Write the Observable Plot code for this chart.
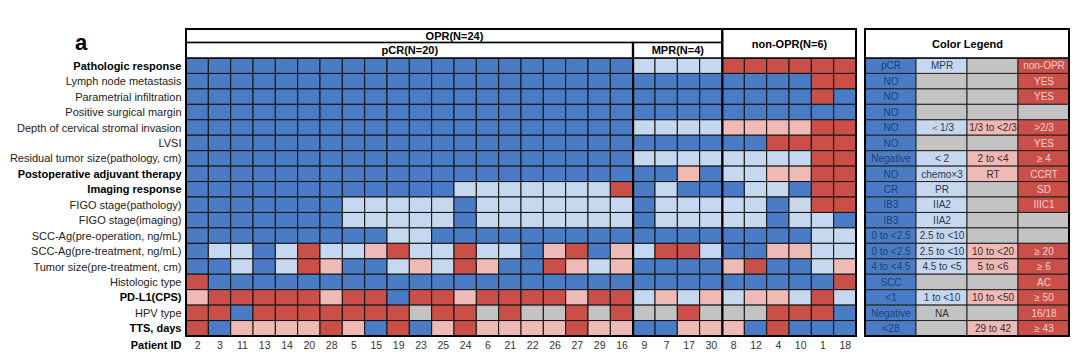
<!DOCTYPE html>
<html><head><meta charset="utf-8">
<script src="https://cdn.jsdelivr.net/npm/d3@7"></script>
<script src="https://cdn.jsdelivr.net/npm/@observablehq/plot@0.6"></script>
<style>
html,body{margin:0;padding:0;background:#fff;}
#wrap{position:relative;width:1080px;height:357px;overflow:hidden;font-family:"Liberation Sans",Arial,sans-serif;}
#wrap svg{position:absolute;left:0;top:0;}
#panel{position:absolute;left:75px;top:30px;font-size:22px;font-weight:bold;color:#000;}
</style></head><body><div id="wrap"><div id="panel">a</div></div>
<script>
// ---------- data ----------
const patients = [2,3,11,13,14,20,28,5,15,19,23,25,24,6,21,22,26,27,29,16,9,7,17,30,8,12,4,10,1,18];
const groupNames = ["pCR(N=20)","MPR(N=4)","non-OPR(N=6)"];
const groupSizes = [20,4,6];
const superName = "OPR(N=24)";
const rowLabels = [
  "Pathologic response","Lymph node metastasis","Parametrial infiltration","Positive surgical margin",
  "Depth of cervical stromal invasion","LVSI","Residual tumor size(pathology, cm)","Postoperative adjuvant therapy",
  "Imaging response","FIGO stage(pathology)","FIGO stage(imaging)","SCC-Ag(pre-operation, ng/mL)",
  "SCC-Ag(pre-treatment, ng/mL)","Tumor size(pre-treatment, cm)","Histologic type","PD-L1(CPS)","HPV type","TTS, days"
];
const boldRows = ["Pathologic response","Postoperative adjuvant therapy","Imaging response","PD-L1(CPS)","TTS, days"];
// B = dark blue, L = light blue, P = pink, R = red, G = grey
const cellCodes = [
  "BBBBBBBBBBBBBBBBBBBB"+"LLLL"+"RRRRRR",
  "BBBBBBBBBBBBBBBBBBBB"+"BBBB"+"BBBBRR",
  "BBBBBBBBBBBBBBBBBBBB"+"BBBB"+"BBBBRB",
  "BBBBBBBBBBBBBBBBBBBB"+"BBBB"+"BBBBBB",
  "BBBBBBBBBBBBBBBBBBBB"+"LLLL"+"PPPPRR",
  "BBBBBBBBBBBBBBBBBBBB"+"BBBB"+"BBRRRR",
  "BBBBBBBBBBBBBBBBBBBB"+"LLLL"+"LLLLRR",
  "BBBBBBBBBBBBBBBBBBBB"+"BBPB"+"LLPPRR",
  "BBBBBBBBBBBBLLLLLLLR"+"BLBB"+"BLLBRR",
  "BBBBBBBLLLLLBLLLLLLL"+"BLLL"+"LLBLRR",
  "BBBBBBBLLLLLBLLLLLLL"+"BLLL"+"LLBLLB",
  "BBBBBBBBBLLBBBBBBBBB"+"BBBB"+"BBBBLL",
  "BLLBLRLLPRLLRLLBPRBP"+"LRRL"+"BBPPLL",
  "BBLBLRPBBLPLRPBBRPLP"+"BBBB"+"PRBBLP",
  "RBBBBBBBBBBBBBBBBBBB"+"BBBB"+"BBBBBR",
  "PRRRRRPRRBRRPRRRRPRR"+"LPLP"+"LPPLRL",
  "RRBRRRRRRRGRRGRGGRGR"+"GGRG"+"GGRRRB",
  "RBPPPPRPBRBPRPPPPRPP"+"BBPP"+"PBRBBB"
];
const legendTitle = "Color Legend";
const legendTexts = [
  ["pCR","MPR","","non-OPR"],
  ["NO","","","YES"],
  ["NO","","","YES"],
  ["NO","","",""],
  ["NO","\uFF1C1/3","1/3 to <2/3",">2/3"],
  ["NO","","","YES"],
  ["Negative","< 2","2 to <4","\u2265 4"],
  ["NO","chemo\u00D73","RT","CCRT"],
  ["CR","PR","","SD"],
  ["IB3","IIA2","","IIIC1"],
  ["IB3","IIA2","",""],
  ["0 to <2.5","2.5 to <10","",""],
  ["0 to <2.5","2.5 to <10","10 to <20","\u2265 20"],
  ["4 to <4.5","4.5 to <5","5 to <6","\u2265 6"],
  ["SCC","","","AC"],
  ["<1","1 to <10","10 to <50","\u2265 50"],
  ["Negative","NA","","16/18"],
  ["<28","","29 to 42","\u2265 43"]
];
const legendCodes = ["BLGR","BGGR","BGGR","BGGG","BLPR","BGGR","BLPR","BLPR","BLGR","BLGR","BLGG","BLGG","BLPR","BLPR","BGGR","BLPR","BGGR","BGPR"];

// ---------- styles ----------
const fillOf = {B:"#4a7cc5", L:"#c6d8ef", P:"#efbab6", R:"#c94f48", G:"#c3c3c3"};
const textOf = {B:"#1d3f78", L:"#2b3650", P:"#3a2a2a", R:"#f7d0cc", G:"#333333"};
const FONT = '"Liberation Sans", Arial, sans-serif';

// ---------- derived tables ----------
const cells = [];
cellCodes.forEach((s, r) => { for (let c = 0; c < s.length; c++) cells.push({r, c, code: s[c]}); });
const bounds = [0]; groupSizes.forEach(n => bounds.push(bounds[bounds.length-1] + n));
const nCols = patients.length, nRows = rowLabels.length;
const groups = groupNames.map((g, i) => ({name: g, a: bounds[i], b: bounds[i+1]}));
const opr = {name: superName, a: 0, b: bounds[2]};
const HTOP = -1.88; // header top (in row units)

const common = {
  width: 1080, height: 357, marginLeft: 186, marginRight: 224, marginTop: 58, marginBottom: 21,
  y: {type: "linear", domain: [0, nRows], range: [58, 336], axis: null},
  style: {fontFamily: FONT, fontSize: "11px", background: "transparent", overflow: "visible"}
};

const main = Plot.plot({
  ...common,
  x: {type: "linear", domain: [0, nCols], range: [186, 856], axis: null},
  marks: [
    Plot.rect(cells, {x1: d => d.c, x2: d => d.c + 1, y1: d => d.r, y2: d => d.r + 1,
      fill: d => fillOf[d.code], stroke: "#111", strokeWidth: 1}),
    // header boxes
    Plot.rect([opr], {x1: "a", x2: "b", y1: HTOP, y2: -1, fill: "white", stroke: "#000", strokeWidth: 1.5}),
    Plot.rect(groups.slice(0, 2), {x1: "a", x2: "b", y1: -1, y2: 0, fill: "white", stroke: "#000", strokeWidth: 1.5}),
    Plot.rect(groups.slice(2), {x1: "a", x2: "b", y1: HTOP, y2: 0, fill: "white", stroke: "#000", strokeWidth: 1.5}),
    Plot.text([opr], {x: d => (d.a + d.b) / 2, y: (HTOP - 1) / 2, text: "name", fontWeight: "bold", fontSize: 11}),
    Plot.text(groups.slice(0, 2), {x: d => (d.a + d.b) / 2, y: -0.5, text: "name", fontWeight: "bold", fontSize: 11}),
    Plot.text(groups.slice(2), {x: d => (d.a + d.b) / 2, y: HTOP / 2, text: "name", fontWeight: "bold", fontSize: 11}),
    // group separators and frame
    Plot.ruleX([bounds[1]], {y1: -1, y2: nRows, stroke: "#000", strokeWidth: 2}),
    Plot.ruleX([bounds[2]], {y1: HTOP, y2: nRows, stroke: "#000", strokeWidth: 2}),
    Plot.rect([0], {x1: 0, x2: nCols, y1: HTOP, y2: nRows, fill: "none", stroke: "#000", strokeWidth: 2}),
    // row labels
    Plot.text(rowLabels.filter(d => !boldRows.includes(d)), {x: 0, y: d => rowLabels.indexOf(d) + 0.5, text: d => d,
      textAnchor: "end", dx: -5, fill: "#222", fontSize: 11}),
    Plot.text(boldRows, {x: 0, y: d => rowLabels.indexOf(d) + 0.5, text: d => d,
      textAnchor: "end", dx: -5, fill: "#000", fontSize: 11, fontWeight: "bold"}),
    // patient IDs
    Plot.text(patients, {x: (d, i) => i + 0.5, y: nRows + 0.6, text: d => String(d), fill: "#333", fontSize: 10.5}),
    Plot.text(["Patient ID"], {x: 0, y: nRows + 0.6, text: d => d, textAnchor: "end", dx: -5, fontWeight: "bold", fontSize: 11})
  ]
});

const legCells = [];
legendCodes.forEach((s, r) => { for (let c = 0; c < 4; c++) legCells.push({r, c, code: s[c], text: legendTexts[r][c]}); });

const legend = Plot.plot({
  ...common,
  marginLeft: 865, marginRight: 11,
  x: {type: "linear", domain: [0, 4], range: [865, 1069], axis: null},
  marks: [
    Plot.rect(legCells, {x1: d => d.c, x2: d => d.c + 1, y1: d => d.r, y2: d => d.r + 1,
      fill: d => fillOf[d.code], stroke: "#222", strokeWidth: 1}),
    Plot.text(legCells.filter(d => d.text), {x: d => d.c + 0.5, y: d => d.r + 0.5, text: "text",
      fill: d => textOf[d.code], fontSize: 10}),
    Plot.rect([0], {x1: 0, x2: 4, y1: HTOP, y2: 0, fill: "white", stroke: "#000", strokeWidth: 1.5}),
    Plot.text([legendTitle], {x: 2, y: HTOP / 2, text: d => d, fontWeight: "bold", fontSize: 11}),
    Plot.rect([0], {x1: 0, x2: 4, y1: HTOP, y2: nRows, fill: "none", stroke: "#000", strokeWidth: 2})
  ]
});

const wrap = document.getElementById("wrap");
wrap.appendChild(main);
wrap.appendChild(legend);
</script>
</body></html>
